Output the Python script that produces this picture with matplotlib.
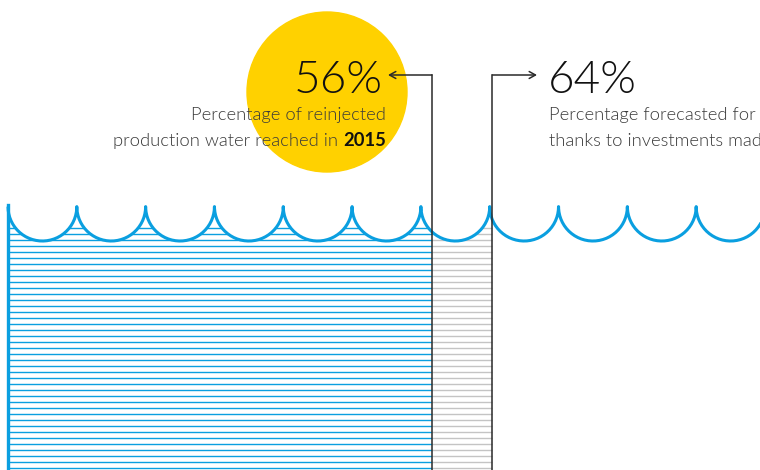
import numpy as np
import matplotlib.pyplot as plt
from matplotlib.patches import Circle, Polygon
from matplotlib.collections import LineCollection

# values (percent of reinjected production water)
reached_pct = 56
forecast_pct = 64
reached_year = "2015"
label_reached = ["Percentage of reinjected", "production water reached in "]
label_forecast = ["Percentage forecasted for 2019", "thanks to investments made"]
n_waves = 11

BLUE = "#0a9fe0"
GREY = "#c4c4c4"
DARK = "#2a2a2a"
YELLOW = "#ffd100"

fig = plt.figure(figsize=(7.6, 4.7), dpi=100)
ax = fig.add_axes([0, 0, 1, 1])
# 1 unit = 1 % of the full bar width (757 px)
px = 7.57
ax.set_xlim(-8 / px, 752 / px)
ax.set_ylim(470 / px, 0)
ax.set_aspect("equal")
ax.axis("off")

# wave outline
r = 100 / n_waves / 2
yc = 206.6 / px
xs, ys = [], []
for i in range(n_waves + 1):
    t = np.linspace(np.pi, 0, 60)
    xs.extend((2 * i + 1) * r + r * np.cos(t))
    ys.extend(yc + r * np.sin(t))
xs = np.array(xs)
ys = np.array(ys)
ax.plot(xs, ys, color=BLUE, lw=2.2, solid_capstyle="butt", zorder=4)
ax.plot([0, 0], [yc - 0.2, 480 / px], color=BLUE, lw=2.4, zorder=4)

# clip region below the wave
bottom = 480 / px
clip = Polygon(np.column_stack([np.r_[xs, xs[-1], xs[0]], np.r_[ys, bottom, bottom]]),
               closed=True, transform=ax.transData, fc="none", ec="none")
ax.add_patch(clip)

# horizontal hatching
hy = np.arange(228 / px, bottom, 6 / px)
blue_lines = LineCollection([[(0, y), (reached_pct, y)] for y in hy],
                            colors=BLUE, linewidths=1.0, zorder=2)
grey_lines = LineCollection([[(reached_pct, y), (forecast_pct, y)] for y in hy],
                            colors=GREY, linewidths=1.0, zorder=2)
for lc in (blue_lines, grey_lines):
    ax.add_collection(lc)
    lc.set_clip_path(clip)

# yellow circle
ax.add_patch(Circle((319 / px, 92 / px), 80 / px, color=YELLOW, zorder=1))

# leader lines with arrows
ay = 75 / px
for pct, tip in ((reached_pct, 388), (forecast_pct, 537)):
    ax.plot([pct, pct], [bottom, ay], color=DARK, lw=1.1, zorder=5)
    ax.annotate("", xy=((tip - 8) / px, ay), xytext=(pct, ay),
                arrowprops=dict(arrowstyle="->,head_length=0.45,head_width=0.25",
                                lw=1.1, color=DARK, shrinkA=0, shrinkB=0), zorder=5)

font = "Lato"
small = 13.2
ax.text(375 / px, 93 / px, f"{reached_pct}%", ha="right", va="baseline",
        fontsize=33, family=font, fontweight=300, color="#111111", zorder=6)
ax.text(378 / px, 120 / px, label_reached[0], ha="right", va="baseline",
        fontsize=small, family=font, fontweight=300, color="#3a3a3a", zorder=6)
yr = ax.text(378 / px, 146 / px, reached_year, ha="right", va="baseline",
             fontsize=small, family=font, fontweight="bold", color="#111111", zorder=6)
ax.annotate(label_reached[1], xy=(0, 0), xycoords=yr, ha="right", va="bottom",
            fontsize=small, family=font, fontweight=300, color="#3a3a3a", zorder=6)

ax.text(540 / px, 93 / px, f"{forecast_pct}%", ha="left", va="baseline",
        fontsize=33, family=font, fontweight=300, color="#111111", zorder=6)
for k, line in enumerate(label_forecast):
    ax.text(541 / px, (120 + 26 * k) / px, line, ha="left", va="baseline",
            fontsize=small, family=font, fontweight=300, color="#3a3a3a",
            clip_on=True, zorder=6)

fig.savefig("out.png", dpi=100)
